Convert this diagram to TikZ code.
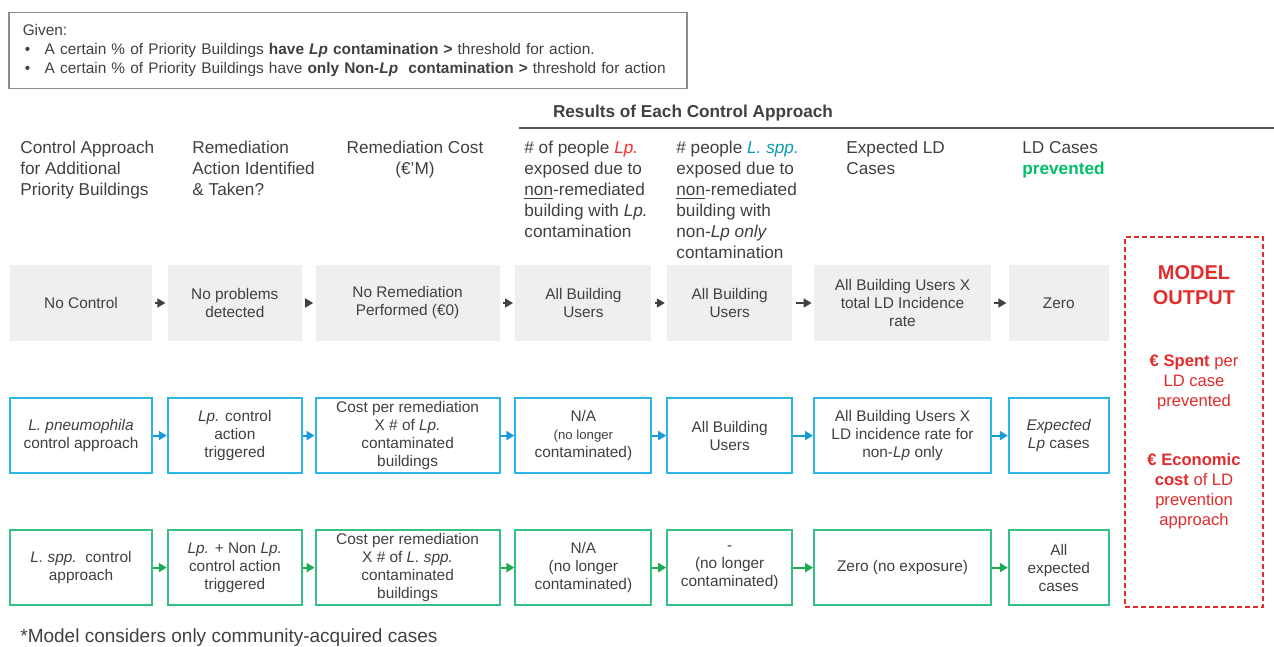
\documentclass[tikz,border=0pt]{standalone}
\usepackage{fontspec}
\setmainfont{Liberation Sans}
\usepackage{tikz}
\usetikzlibrary{positioning, arrows.meta}
\usepackage{color}
\definecolor{txtgray}{HTML}{404040}
\definecolor{boxgray}{HTML}{EFEFEF}
\definecolor{lblue}{HTML}{2CB5E8}
\definecolor{arrblue}{HTML}{1A9AD6}
\definecolor{lgreen}{HTML}{33C283}
\definecolor{arrgreen}{HTML}{1DAA55}
\definecolor{mred}{HTML}{E32B2B}
\definecolor{lpred}{HTML}{FF2A2A}
\definecolor{sppteal}{HTML}{0A9CB5}
\definecolor{prevgreen}{HTML}{00C066}
\definecolor{givengray}{HTML}{8C8C8C}
\definecolor{linegray}{HTML}{555555}

\begin{document}
\begin{tikzpicture}[x=0.5pt, y=-0.5pt,
  hdr/.style={anchor=north west, align=left, inner sep=0pt, text=txtgray, font=\fontsize{8.6}{10.5}\selectfont},
  nbox/.style={fill=boxgray, minimum height=38pt, align=center, inner sep=1pt, text=txtgray, font=\fontsize{7.7}{9}\selectfont},
  pbox/.style={nbox, fill=none, minimum height=37.2pt, draw=lblue, line width=1pt},
  sbox/.style={nbox, fill=none, minimum height=37.8pt, draw=lgreen, line width=1pt},
  narr/.style={-{Triangle[length=4pt,width=4.5pt]}, line width=0.8pt, draw=txtgray, shorten <=1.5pt, shorten >=1pt},
  parr/.style={narr, draw=arrblue, line width=1pt, shorten <=0pt, shorten >=0pt},
  sarr/.style={narr, draw=arrgreen, line width=1pt, shorten <=0pt, shorten >=0pt}]
  \useasboundingbox (0,0) rectangle (1274,647);

  % given box
  \node[draw=givengray, line width=0.75pt, anchor=north west, minimum height=38pt, inner xsep=7pt, text width=325pt, align=left, text=txtgray, font=\fontsize{7.7}{9.5}\selectfont] (G) at (8,12)
    {Given:\\
     \hspace*{1pt}\makebox[10pt][l]{\textbullet}A certain \% of Priority Buildings \textbf{have \textit{Lp} contamination >} threshold for action.\\
     \hspace*{1pt}\makebox[10pt][l]{\textbullet}A certain \% of Priority Buildings have \textbf{only Non-\textit{Lp}\ \ contamination >} threshold for action};

  \node[text=txtgray, font=\bfseries\fontsize{8.6}{10}\selectfont] (R) at (693,113) {Results of Each Control Approach};
  \coordinate (R1) at (519,128);
  \coordinate (R2) at (1274,128);
  \draw[line width=1.2pt, draw=linegray] (R1) -- (R2);

  % column headers
  \node[hdr] (H1) at (20,141) {Control Approach\\ for Additional\\ Priority Buildings};
  \node[hdr] (H2) at (192,141) {Remediation\\ Action Identified\\ \& Taken?};
  \node[hdr, anchor=north, align=center] (H3) at (415,141) {Remediation Cost\\ (€'M)};
  \node[hdr] (H4) at (524,141) {\# of people \textcolor{lpred}{\textit{Lp.}}\\ exposed due to\\ \underline{non}-remediated\\ building with \textit{Lp.}\\ contamination};
  \node[hdr] (H5) at (676,141) {\# people \textcolor{sppteal}{\textit{L. spp.}}\\ exposed due to\\ \underline{non}-remediated\\ building with\\ non-\textit{Lp only}\\ contamination};
  \node[hdr] (H6) at (846,141) {Expected LD\\ Cases};
  \node[hdr] (H7) at (1022,141) {LD Cases\\ \textcolor{prevgreen}{\textbf{prevented}}};

  % no control row
  \node[nbox, minimum width=71pt] (N1) at (81,303) {No Control};
  \node[nbox, minimum width=67pt, right=7.5pt of N1] (N2) {No problems\\ detected};
  \node[nbox, minimum width=92pt, right=6.5pt of N2] (N3) {No Remediation\\ Performed (€0)};
  \node[nbox, minimum width=68pt, right=7.5pt of N3] (N4) {All Building\\ Users};
  \node[nbox, minimum width=62.5pt, right=7.5pt of N4] (N5) {All Building\\ Users};
  \node[nbox, minimum width=88.5pt, right=10.5pt of N5] (N6) {All Building Users X\\ total LD Incidence\\ rate};
  \node[nbox, minimum width=50pt, right=8.5pt of N6] (N7) {Zero};

  % L. pneumophila row
  \node[pbox, minimum width=71pt, below=28pt of N1] (P1) {\textit{L. pneumophila}\\ control approach};
  \node[pbox, minimum width=67pt, below=28pt of N2] (P2) {\textit{Lp.} control\\ action\\ triggered};
  \node[pbox, minimum width=92pt, below=28pt of N3] (P3) {Cost per remediation\\ X \# of \textit{Lp.}\\ contaminated\\ buildings};
  \node[pbox, minimum width=68pt, below=28pt of N4] (P4) {N/A\\ \fontsize{6.6}{8}\selectfont(no longer\\ contaminated)};
  \node[pbox, minimum width=62.5pt, below=28pt of N5] (P5) {All Building\\ Users};
  \node[pbox, minimum width=88.5pt, below=28pt of N6] (P6) {All Building Users X\\ LD incidence rate for\\ non-\textit{Lp} only};
  \node[pbox, minimum width=50pt, below=28pt of N7] (P7) {\textit{Expected}\\ \textit{Lp} cases};

  % L. spp. row
  \node[sbox, minimum width=71pt, below=27.5pt of P1] (S1) {\textit{L. spp.}\ \ control\\ approach};
  \node[sbox, minimum width=67pt, below=27.5pt of P2] (S2) {\textit{Lp.} + Non \textit{Lp.}\\ control action\\ triggered};
  \node[sbox, minimum width=92pt, below=27.5pt of P3] (S3) {Cost per remediation\\ X \# of \textit{L. spp.}\\ contaminated\\ buildings};
  \node[sbox, minimum width=68pt, below=27.5pt of P4] (S4) {N/A\\ (no longer\\ contaminated)};
  \node[sbox, minimum width=62.5pt, below=27.5pt of P5] (S5) {-\\ (no longer\\ contaminated)};
  \node[sbox, minimum width=88.5pt, below=27.5pt of P6] (S6) {Zero (no exposure)};
  \node[sbox, minimum width=50pt, below=27.5pt of P7] (S7) {All\\ expected\\ cases};

  % model output
  \node[draw=mred, line width=1pt, dash pattern=on 2.5pt off 1.5pt, minimum width=69pt, minimum height=185pt] (M) at (1194,422) {};
  \node[text=mred, align=center, font=\bfseries\fontsize{10}{12.5}\selectfont] (M1) at (1194,285.5) {MODEL\\ OUTPUT};
  \node[text=mred, align=center, font=\fontsize{8.3}{10}\selectfont] (M2) at (1194,382) {\textbf{€ Spent} per\\ LD case\\ prevented};
  \node[text=mred, align=center, font=\fontsize{8.3}{10}\selectfont] (M3) at (1194,491.5) {\textbf{€ Economic}\\ \textbf{cost} of LD\\ prevention\\ approach};

  \node[anchor=west, inner sep=0pt, text=txtgray, font=\fontsize{9.5}{11}\selectfont] (F) at (20,638) {*Model considers only community-acquired cases};

  \draw[narr] (N1) -- (N2);
  \draw[narr] (N2) -- (N3);
  \draw[narr] (N3) -- (N4);
  \draw[narr] (N4) -- (N5);
  \draw[narr] (N5) -- (N6);
  \draw[narr] (N6) -- (N7);
  \draw[parr] (P1) -- (P2);
  \draw[parr] (P2) -- (P3);
  \draw[parr] (P3) -- (P4);
  \draw[parr] (P4) -- (P5);
  \draw[parr] (P5) -- (P6);
  \draw[parr] (P6) -- (P7);
  \draw[sarr] (S1) -- (S2);
  \draw[sarr] (S2) -- (S3);
  \draw[sarr] (S3) -- (S4);
  \draw[sarr] (S4) -- (S5);
  \draw[sarr] (S5) -- (S6);
  \draw[sarr] (S6) -- (S7);
\end{tikzpicture}
\end{document}
